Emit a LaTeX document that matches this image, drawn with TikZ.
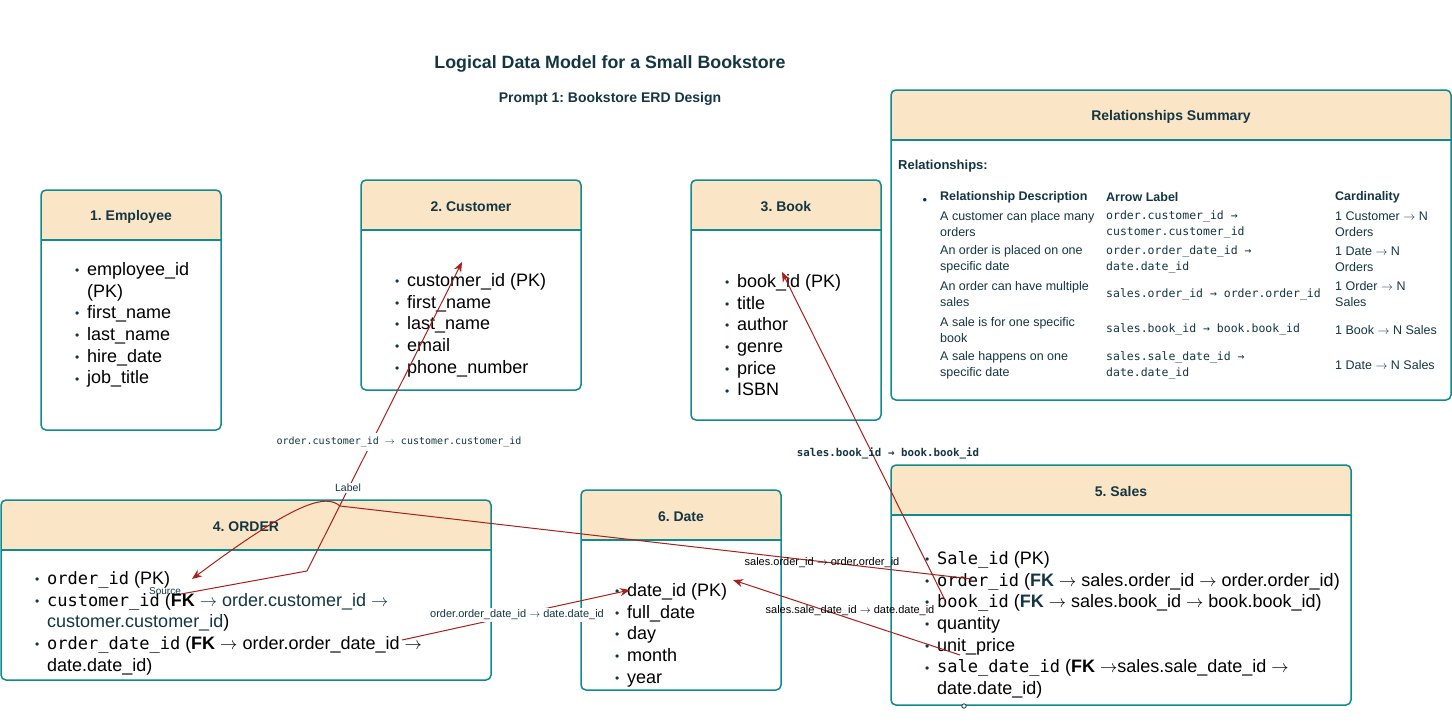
\documentclass[tikz,border=0pt]{standalone}
\usepackage{fontspec}
\setmainfont{Liberation Sans}
\setmonofont{DejaVu Sans Mono}
\usetikzlibrary{arrows.meta, positioning}
\frenchspacing
\definecolor{headfill}{HTML}{FAE5C7}
\definecolor{boxline}{HTML}{0F8B8D}
\definecolor{inktxt}{HTML}{143642}
\definecolor{linkred}{HTML}{A8201A}
\newcommand{\bul}{\strut\makebox[12pt][l]{\raisebox{0.8pt}{\textcolor{inktxt}{\fontsize{12}{12}\selectfont\textbullet}}}}
\newcommand{\ind}{\hspace*{12pt}}
\newcommand{\cd}[1]{{\fontsize{17}{21.7}\selectfont\ttfamily #1}}
\newcommand{\ra}{\ensuremath{\rightarrow}}

\begin{document}
\begin{tikzpicture}[x=1pt, y=-1pt,
    entity/.style={draw=boxline, line width=1.5pt, rounded corners=5pt, fill=white, inner sep=0pt, outer sep=0pt,
        path picture={\fill[headfill] (path picture bounding box.north west) rectangle ([yshift=-50pt]path picture bounding box.north east);}},
    headtitle/.style={font=\fontsize{14}{16}\selectfont\bfseries, text=inktxt},
    attrlist/.style={anchor=north west, align=left, inner sep=0pt, font=\fontsize{18}{21.7}\selectfont},
    celltxt/.style={anchor=west, align=left, inner sep=0pt, text=inktxt, font=\fontsize{12.5}{16}\selectfont},
    cellcode/.style={celltxt, font=\fontsize{11.5}{16}\selectfont\ttfamily},
    link/.style={draw=linkred, line width=1pt, -{Stealth[length=10pt, width=8pt]}},
    elabel/.style={inner sep=1.5pt, font=\fontsize{11}{12}\selectfont},
]
\useasboundingbox (0,0) rectangle (1452,726);

% titles
\node[font=\fontsize{17.8}{20}\selectfont\bfseries, text=inktxt] (title) at (610,63.5) {Logical Data Model for a Small Bookstore};
\node[font=\fontsize{14}{16}\selectfont\bfseries, text=inktxt] (subtitle) at (610,98.5) {Prompt 1: Bookstore ERD Design};

% entity boxes
\node[entity, minimum width=180pt, minimum height=240pt] (employee) at (131,310) {};
\node[entity, minimum width=220pt, minimum height=210pt] (customer) at (471,285) {};
\node[entity, minimum width=190pt, minimum height=240pt] (book)     at (786,300) {};
\node[entity, minimum width=560pt, minimum height=310pt] (summary)  at (1171,245) {};
\node[entity, minimum width=490pt, minimum height=180pt] (order)    at (246,590) {};
\node[entity, minimum width=200pt, minimum height=200pt] (date)     at (681,590) {};
\node[entity, minimum width=460pt, minimum height=240pt] (sales)    at (1121,585) {};

\foreach \b/\t in {employee/1. Employee, customer/2. Customer, book/3. Book, summary/Relationships Summary,
                   order/4. ORDER, date/6. Date, sales/5. Sales} {
  \draw[boxline, line width=1.5pt] ([yshift=-50pt]\b.north west) -- ([yshift=-50pt]\b.north east);
  \node[headtitle] (\b-head) at ([yshift=-26.5pt]\b.north) {\t};
}

% attributes
\node[attrlist] (employee-list) at (75,260) {\bul employee\_id\\ \ind(PK)\\ \bul first\_name\\ \bul last\_name\\ \bul hire\_date\\ \bul job\_title};
\node[attrlist] (customer-list) at (395,271) {\bul customer\_id (PK)\\ \bul first\_name\\ \bul last\_name\\ \bul email\\ \bul phone\_number};
\node[attrlist] (book-list) at (725,272) {\bul book\_id (PK)\\ \bul title\\ \bul author\\ \bul genre\\ \bul price\\ \bul ISBN};
\node[attrlist] (order-list) at (35,569) {\bul\cd{order\_id} (PK)\\
  \bul\cd{customer\_id} (\textbf{FK} \textcolor{inktxt}{\ra{} order.customer\_id \ra}\\
  \ind\textcolor{inktxt}{customer.customer\_id})\\
  \bul\cd{order\_date\_id} (\textbf{FK} \ra{} order.order\_date\_id \ra\\
  \ind date.date\_id)};
\node[attrlist] (date-list) at (615,581) {\bul date\_id (PK)\\ \bul full\_date\\ \bul day\\ \bul month\\ \bul year};
\node[attrlist] (sales-list) at (925,549) {\bul\cd{Sale\_id} (PK)\\
  \bul\cd{order\_id} (\textbf{\textcolor{inktxt}{FK}} \ra{} sales.order\_id \ra{} order.order\_id)\\
  \bul\cd{book\_id} (\textbf{\textcolor{inktxt}{FK}} \ra{} sales.book\_id \ra{} book.book\_id)\\
  \bul quantity\\ \bul unit\_price\\
  \bul\cd{sale\_date\_id} (\textbf{FK} \ra sales.sale\_date\_id \ra\\
  \ind date.date\_id)};

% relationships summary
\node[celltxt, font=\fontsize{13}{15}\selectfont\bfseries] (rel-caption) at (898,166) {Relationships:};
\node[text=inktxt, inner sep=0pt, font=\fontsize{13}{13}\selectfont] (rel-bullet) at (925,201) {\textbullet};
\node[celltxt, font=\fontsize{12.5}{15}\selectfont\bfseries] (col-desc) at (940,197) {Relationship Description};
\node[celltxt, font=\fontsize{12.5}{15}\selectfont\bfseries] (col-label) at (1106,197) {Arrow Label};
\node[celltxt, font=\fontsize{12.5}{15}\selectfont\bfseries] (col-card) at (1335,197) {Cardinality};
\foreach \desc/\lab/\card [count=\r from 0] in {
    {A customer can place many\\orders}/{order.customer\_id →\\customer.customer\_id}/{1 Customer \ra{} N\\Orders},
    {An order is placed on one\\specific date}/{order.order\_date\_id →\\date.date\_id}/{1 Date \ra{} N\\Orders},
    {An order can have multiple\\sales}/{sales.order\_id → order.order\_id}/{1 Order \ra{} N\\Sales},
    {A sale is for one specific\\book}/{sales.book\_id → book.book\_id}/{1 Book \ra{} N Sales},
    {A sale happens on one\\specific date}/{sales.sale\_date\_id →\\date.date\_id}/{1 Date \ra{} N Sales}} {
  \node[celltxt]  (desc-\r)  at (940,224+35.25*\r)  {\desc};
  \node[cellcode] (label-\r) at (1106,224+35.25*\r) {\lab};
  \node[celltxt]  (card-\r)  at (1335,224+35.25*\r) {\card};
}

% connector ends
\coordinate (order-src)   at (181,594);
\coordinate (order-bend)  at (307,571);
\coordinate (customer-pk) at (462,262);
\coordinate (sales-order) at (972,579);
\coordinate (order-top)   at (340,506);
\coordinate (order-pk)    at (192,579);
\coordinate (order-date)  at (402,640);
\coordinate (date-pk)     at (630,590);
\coordinate (sales-book)  at (945,600);
\coordinate (book-pk)     at (782,272);
\coordinate (sales-date)  at (960,655);
\coordinate (date-pk2)    at (733,580);

% connectors
\draw[link] (order-src) -- (order-bend) -- (customer-pk);
\draw[link] (sales-order) -- (order-top) .. controls (326,494) and (298,500) .. (order-pk);
\draw[link] (order-date) -- (date-pk);
\draw[link] (sales-book) -- (book-pk);
\draw[link] (sales-date) -- (date-pk2);

% connector labels
\node[elabel, fill=white, text=inktxt, font=\fontsize{10}{12}\selectfont\ttfamily, inner sep=4pt] (lab-cust) at (399,442) {order.customer\_id \ra{} customer.customer\_id};
\node[elabel, fill=white, text=inktxt, font=\fontsize{10.5}{12}\selectfont] (lab-label) at (348,488) {Label};
\node[elabel, text=inktxt, font=\fontsize{10}{12}\selectfont] (lab-source) at (165,591) {Source};
\node[elabel] (lab-salesorder) at (822,563) {sales.order\_id \ra{} order.order\_id};
\node[elabel, fill=white, text=inktxt] (lab-orderdate) at (517,615) {order.order\_date\_id \ra{} date.date\_id};
\node[elabel, text=inktxt, font=\fontsize{10.8}{12}\selectfont\ttfamily\bfseries] (lab-book) at (888,453) {sales.book\_id → book.book\_id};
\node[elabel] (lab-salesdate) at (850,611) {sales.sale\_date\_id \ra{} date.date\_id};

% stray handle under sales
\draw[inktxt, line width=0.8pt, fill=white] (964,706) circle (2.2pt);

\end{tikzpicture}
\end{document}
